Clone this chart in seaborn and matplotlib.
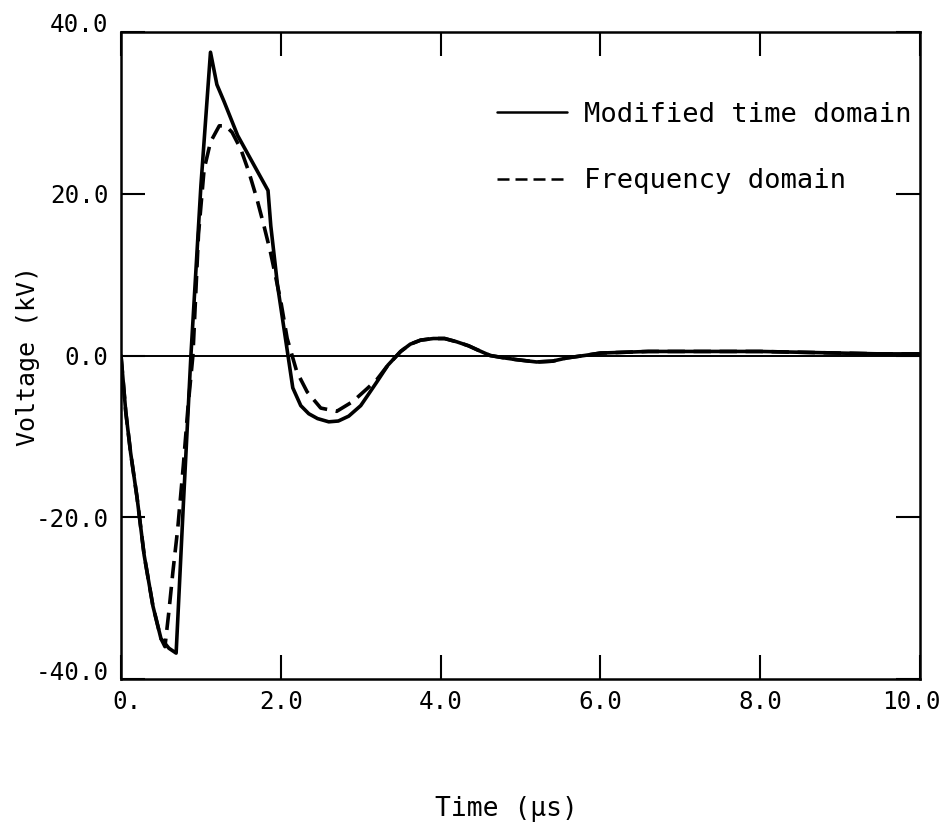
import numpy as np
import pandas as pd
import matplotlib
matplotlib.use("Agg")
import matplotlib.pyplot as plt
import matplotlib.transforms as mtransforms
import seaborn as sns

# ---- data ----
t_mod = [0, 0.03, 0.06, 0.12, 0.2, 0.29, 0.4, 0.5, 0.6, 0.69, 0.78, 0.875, 1.0, 1.12,
         1.2, 1.29, 1.46, 1.65, 1.84, 1.875, 1.96, 2.09, 2.15, 2.25, 2.35, 2.46, 2.6,
         2.72, 2.85, 3.0, 3.09, 3.2, 3.34, 3.5, 3.62, 3.75, 3.91, 4.05, 4.2, 4.35, 4.46,
         4.62, 4.8, 4.94, 5.2, 5.4, 5.58, 5.8, 6.0, 6.3, 6.6, 7.0, 7.5, 8.0, 8.5, 9.0,
         9.5, 10.0]
v_mod = [0, -3.5, -7, -12, -17.5, -24.7, -31, -35, -36.2, -36.8, -18.5, 0, 21, 37.5,
         33.5, 31.4, 27.2, 23.8, 20.4, 16, 8.6, 0, -4, -6.2, -7.2, -7.8, -8.2,
         -8.1, -7.5, -6.2, -4.9, -3.3, -1.2, 0.5, 1.4, 1.9, 2.1, 2.1, 1.7, 1.2, 0.7,
         0, -0.3, -0.5, -0.8, -0.7, -0.3, 0, 0.3, 0.4, 0.5, 0.5, 0.5, 0.5, 0.4, 0.3,
         0.2, 0.2]

t_freq = [0, 0.03, 0.06, 0.12, 0.2, 0.29, 0.4, 0.5, 0.55, 0.6, 0.65, 0.71, 0.78, 0.84,
          0.9, 0.97, 1.04, 1.12, 1.23, 1.31, 1.39, 1.5, 1.6, 1.7, 1.79, 1.87, 2.0, 2.08,
          2.2, 2.33, 2.5, 2.7, 2.9, 3.08, 3.2, 3.34, 3.5, 3.62, 3.75, 3.91, 4.05, 4.2,
          4.35, 4.46, 4.62, 4.8, 4.94, 5.2, 5.4, 5.58, 5.8, 6.0, 6.3, 6.6, 7.0, 7.5,
          8.0, 8.5, 9.0, 9.5, 10.0]
v_freq = [0, -3.5, -7, -12, -17.5, -24.7, -31, -35, -36, -31.6, -26.7, -21.4, -13.6,
          -6.2, 0, 15, 23, 26.4, 28.4, 28.4, 27.6, 25.5, 22.7, 19.4, 16, 12.8, 6.7, 2.1,
          -2, -4.5, -6.5, -6.9, -5.7, -4.1, -3, -1.2, 0.5, 1.4, 1.9, 2.1, 2.1, 1.7,
          1.2, 0.7, 0, -0.3, -0.5, -0.8, -0.7, -0.3, 0, 0.3, 0.4, 0.5, 0.5, 0.5, 0.5,
          0.4, 0.3, 0.2, 0.2]

series_names = ["Modified time domain", "Frequency domain"]
x_ticks = [0, 2, 4, 6, 8, 10]
x_tick_labels = ["0.", "2.0", "4.0", "6.0", "8.0", "10.0"]
y_ticks = [-40, -20, 0, 20, 40]
y_tick_labels = ["-40.0", "-20.0", "0.0", "20.0", "40.0"]

df = pd.concat([
    pd.DataFrame({"t": t_mod, "v": v_mod, "series": series_names[0]}),
    pd.DataFrame({"t": t_freq, "v": v_freq, "series": series_names[1]}),
], ignore_index=True)

sns.set_style("ticks")
plt.rcParams["font.family"] = ["DejaVu Sans Mono", "DejaVu Sans"]
plt.rcParams["text.color"] = "black"
plt.rcParams["axes.labelcolor"] = "black"
plt.rcParams["xtick.color"] = "black"
plt.rcParams["ytick.color"] = "black"

fig = plt.figure(figsize=(9.48, 8.27), dpi=100)
ax = fig.add_axes([121 / 948, (827 - 679) / 827, 799 / 948, 647 / 827])

ax.axhline(0, color="black", lw=1.4, zorder=1)

sns.lineplot(data=df, x="t", y="v", style="series", style_order=series_names,
             dashes={series_names[0]: "", series_names[1]: (4.8, 2.4)},
             color="black", lw=2.6, sort=False, estimator=None, ax=ax, legend=True)

ax.set_xlim(0, 10)
ax.set_ylim(-40, 40)
ax.set_xticks(x_ticks)
ax.set_xticklabels(x_tick_labels)
ax.set_yticks(y_ticks)
ax.set_yticklabels(y_tick_labels)
ax.tick_params(axis="both", direction="in", length=17, width=1.5, labelsize=17.5,
               top=True, right=True, color="black", labelcolor="black")
ax.tick_params(axis="x", pad=8)
ax.tick_params(axis="y", pad=9)
for s in ax.spines.values():
    s.set_linewidth(1.8)
    s.set_color("black")

# small label nudges seen in the reference
def nudge(lbl, dx_px, dy_px):
    off = mtransforms.ScaledTranslation(dx_px / 100, dy_px / 100, fig.dpi_scale_trans)
    lbl.set_transform(lbl.get_transform() + off)

xl = ax.get_xticklabels()
nudge(xl[0], 6, 0)
nudge(xl[-1], -9, 0)
yl = ax.get_yticklabels()
nudge(yl[0], 0, 8)
nudge(yl[-1], 0, 9)

ax.set_xlabel("Time (μs)", fontsize=19)
ax.set_ylabel("Voltage (kV)", fontsize=18)
ax.xaxis.set_label_coords(0.483, -0.181)
ax.yaxis.set_label_coords(-0.101, 0.5)

handles, labels = ax.get_legend_handles_labels()
for h in handles:
    h.set_linewidth(1.8)
ax.legend(handles, labels, loc="upper left", bbox_to_anchor=(0.44, 0.93),
          frameon=False, fontsize=19.5, handlelength=2.6, handletextpad=0.6,
          labelspacing=1.5)

fig.savefig("out.png", dpi=100)
